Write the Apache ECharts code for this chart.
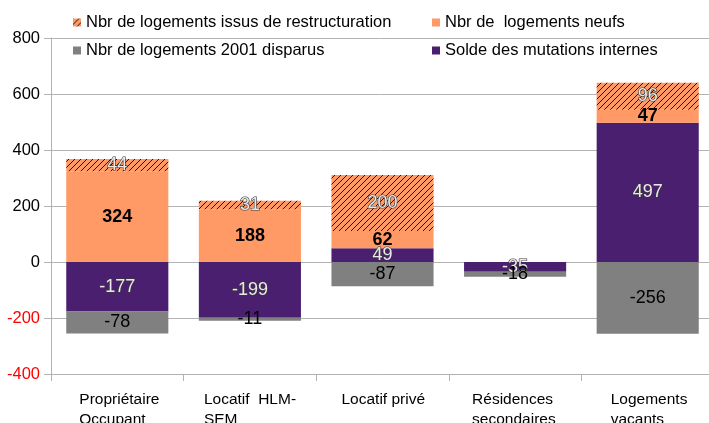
<!DOCTYPE html>
<html>
<head>
<meta charset="utf-8">
<script src="https://cdn.jsdelivr.net/npm/echarts@6/dist/echarts.min.js"></script>
<style>
  html, body { margin: 0; padding: 0; background: #fff; }
  #main { width: 709px; height: 423px; }
</style>
</head>
<body>
<div id="main"></div>
<script>
// data
var categories = ["Propriétaire\nOccupant", "Locatif  HLM-\nSEM", "Locatif privé", "Résidences\nsecondaires", "Logements\nvacants"];
var solde = [-177, -199, 49, -35, 497];
var disparus = [-78, -11, -87, -18, -256];
var neufs = [324, 188, 62, 0, 47];
var restructuration = [44, 31, 200, 0, 96];
var yTicks = [-400, -200, 0, 200, 400, 600, 800];

// hatch pattern for the restructuration series (crisp 1px diagonals)
function hatch() {
  var n = 6;
  var c = document.createElement("canvas");
  c.width = n;
  c.height = n;
  var ctx = c.getContext("2d");
  ctx.fillStyle = "#ff9966";
  ctx.fillRect(0, 0, n, n);
  ctx.fillStyle = "#1a1a1a";
  for (var i = 0; i < n; i++) {
    ctx.fillRect(i, n - 1 - i, 1, 1);
  }
  return { image: c, repeat: "repeat" };
}

var labelWidths = [76, 92, 82, 86, 74];

var outlined = {
  show: true,
  color: "#e8e8e8",
  textBorderColor: "#3a3a3a",
  textBorderWidth: 1.2,
  fontSize: 18,
  fontFamily: "Liberation Sans",
  formatter: function (p) { return p.value === 0 ? "" : p.value; }
};

var chart = echarts.init(document.getElementById("main"));
var legendBase = {
  icon: "rect",
  itemWidth: 8,
  itemHeight: 8,
  itemGap: 4,
  textStyle: { fontSize: 16.5, fontFamily: "Liberation Sans", color: "#000" }
};
var option = {
  animation: false,
  textStyle: { fontFamily: "Liberation Sans" },
  legend: [
    Object.assign({ left: 68, top: 9, data: ["Nbr de logements issus de restructuration"] }, legendBase),
    Object.assign({ left: 427, top: 9, data: ["Nbr de  logements neufs"] }, legendBase),
    Object.assign({ left: 68, top: 37, data: ["Nbr de logements 2001 disparus"] }, legendBase),
    Object.assign({ left: 427, top: 37, data: ["Solde des mutations internes"] }, legendBase)
  ],
  grid: { left: 51, width: 663, top: 38, bottom: 49, containLabel: false, outerBoundsMode: "none" },
  xAxis: {
    type: "category",
    data: categories,
    axisLine: { onZero: false, lineStyle: { color: "#b3b3b3" } },
    axisTick: { show: true, length: 7, lineStyle: { color: "#b3b3b3" } },
    axisLabel: {
      margin: 16,
      interval: 0,
      formatter: function (v, i) {
        return v.split("\n").map(function (s) { return "{w" + i + "|" + s + "}"; }).join("\n");
      },
      rich: (function () {
        var r = {};
        labelWidths.forEach(function (w, i) {
          r["w" + i] = { width: w, align: "left", fontSize: 15.5, lineHeight: 20, color: "#000", fontFamily: "Liberation Sans" };
        });
        return r;
      })()
    }
  },
  yAxis: {
    type: "value",
    min: yTicks[0],
    max: yTicks[yTicks.length - 1],
    interval: 200,
    axisLine: { show: true, lineStyle: { color: "#b3b3b3" } },
    axisTick: { show: true, length: 7, lineStyle: { color: "#b3b3b3" } },
    splitLine: { lineStyle: { color: "#b3b3b3" } },
    axisLabel: {
      margin: 11,
      fontSize: 16.5,
      color: "#000",
      formatter: function (v) { return v < 0 ? "{n|" + v + "}" : String(v); },
      rich: { n: { color: "#ff0000", fontSize: 16.5 } }
    }
  },
  series: [
    {
      name: "Solde des mutations internes",
      type: "bar",
      stack: "s",
      barCategoryGap: "23%",
      data: solde,
      itemStyle: { color: "#4b1f6f" },
      label: outlined
    },
    {
      name: "Nbr de logements 2001 disparus",
      type: "bar",
      stack: "s",
      data: disparus,
      itemStyle: { color: "#808080" },
      label: { show: true, color: "#000", fontSize: 18, fontFamily: "Liberation Sans" }
    },
    {
      name: "Nbr de  logements neufs",
      type: "bar",
      stack: "s",
      data: neufs,
      itemStyle: { color: "#ff9966" },
      label: {
        show: true, color: "#000", fontSize: 18, fontWeight: "bold",
        formatter: function (p) { return p.value === 0 ? "" : p.value; }
      }
    },
    {
      name: "Nbr de logements issus de restructuration",
      type: "bar",
      stack: "s",
      data: restructuration,
      itemStyle: { color: hatch() },
      label: outlined
    }
  ]
};
chart.setOption(option);
</script>
</body>
</html>
